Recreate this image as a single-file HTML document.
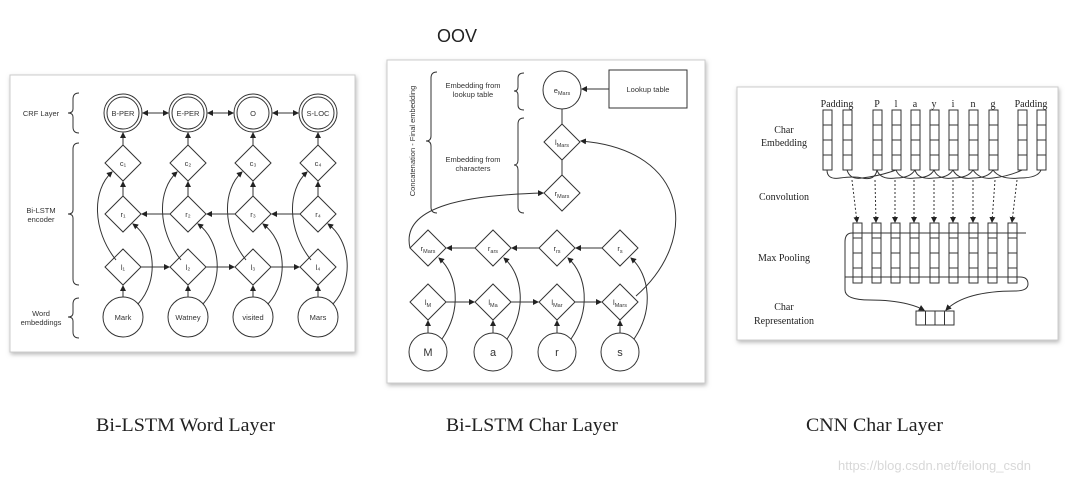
<!DOCTYPE html>
<html><head><meta charset="utf-8"><style>
html,body{margin:0;padding:0;background:#fff;}
svg{display:block;}
.s{font-family:"Liberation Sans",sans-serif;fill:#333;}
.r{font-family:"Liberation Serif",serif;fill:#222;}
.sub{font-size:5.5px;}
</style></head><body>
<svg width="1080" height="483" viewBox="0 0 1080 483" xmlns="http://www.w3.org/2000/svg">
<defs>
<marker id="a" markerWidth="6" markerHeight="6" refX="5" refY="3" orient="auto"><path d="M0,0 L6,3 L0,6 Z" fill="#222"/></marker>
<marker id="b" markerWidth="6" markerHeight="6" refX="1" refY="3" orient="auto"><path d="M6,0 L0,3 L6,6 Z" fill="#222"/></marker>
<filter id="sh" x="-5%" y="-5%" width="110%" height="110%"><feDropShadow dx="1" dy="2" stdDeviation="2" flood-color="#888" flood-opacity="0.6"/></filter>
</defs>

<text x="437" y="42" class="s" font-size="18" style="fill:#222">OOV</text>

<!-- Panel 1 -->
<rect x="10" y="75" width="345" height="277" fill="#fff" stroke="#ccc" filter="url(#sh)"/>
<g stroke="#333" stroke-width="1" fill="none">
<circle cx="123" cy="113" r="19"/><circle cx="123" cy="113" r="16"/>
<circle cx="188" cy="113" r="19"/><circle cx="188" cy="113" r="16"/>
<circle cx="253" cy="113" r="19"/><circle cx="253" cy="113" r="16"/>
<circle cx="318" cy="113" r="19"/><circle cx="318" cy="113" r="16"/>
<line x1="143" y1="113" x2="168" y2="113" marker-start="url(#b)" marker-end="url(#a)"/>
<line x1="208" y1="113" x2="233" y2="113" marker-start="url(#b)" marker-end="url(#a)"/>
<line x1="273" y1="113" x2="298" y2="113" marker-start="url(#b)" marker-end="url(#a)"/>
<path d="M123,145 L141,163 L123,181 L105,163 Z M188,145 L206,163 L188,181 L170,163 Z M253,145 L271,163 L253,181 L235,163 Z M318,145 L336,163 L318,181 L300,163 Z"/>
<path d="M123,196 L141,214 L123,232 L105,214 Z M188,196 L206,214 L188,232 L170,214 Z M253,196 L271,214 L253,232 L235,214 Z M318,196 L336,214 L318,232 L300,214 Z"/>
<path d="M123,249 L141,267 L123,285 L105,267 Z M188,249 L206,267 L188,285 L170,267 Z M253,249 L271,267 L253,285 L235,267 Z M318,249 L336,267 L318,285 L300,267 Z"/>
<circle cx="123" cy="317" r="20"/><circle cx="188" cy="317" r="20"/><circle cx="253" cy="317" r="20"/><circle cx="318" cy="317" r="20"/>
<g marker-end="url(#a)">
<line x1="123" y1="145" x2="123" y2="133"/><line x1="188" y1="145" x2="188" y2="133"/><line x1="253" y1="145" x2="253" y2="133"/><line x1="318" y1="145" x2="318" y2="133"/>
<line x1="123" y1="196" x2="123" y2="182"/><line x1="188" y1="196" x2="188" y2="182"/><line x1="253" y1="196" x2="253" y2="182"/><line x1="318" y1="196" x2="318" y2="182"/>
<line x1="123" y1="297" x2="123" y2="286"/><line x1="188" y1="297" x2="188" y2="286"/><line x1="253" y1="297" x2="253" y2="286"/><line x1="318" y1="297" x2="318" y2="286"/>
<line x1="141" y1="267" x2="169" y2="267"/><line x1="206" y1="267" x2="234" y2="267"/><line x1="271" y1="267" x2="299" y2="267"/>
<line x1="170" y1="214" x2="142" y2="214"/><line x1="235" y1="214" x2="207" y2="214"/><line x1="300" y1="214" x2="272" y2="214"/>
<path d="M116,260 C92,230 92,190 112,172"/><path d="M181,260 C157,230 157,190 177,172"/><path d="M246,260 C222,230 222,190 242,172"/><path d="M311,260 C287,230 287,190 307,172"/>
<path d="M138,304 C160,280 155,240 133,224"/><path d="M203,304 C225,280 220,240 198,224"/><path d="M268,304 C290,280 285,240 263,224"/><path d="M333,304 C355,280 350,240 328,224"/>
</g>
<path d="M79,93 Q73,93 73,99 L73,109 Q73,113 68,113 Q73,113 73,117 L73,127 Q73,133 79,133"/>
<path d="M79,143 Q73,143 73,149 L73,210 Q73,214 68,214 Q73,214 73,218 L73,279 Q73,285 79,285"/>
<path d="M79,298 Q73,298 73,304 L73,313 Q73,317 68,317 Q73,317 73,321 L73,332 Q73,338 79,338"/>
</g>
<g class="s" font-size="7.5" text-anchor="middle">
<text x="41" y="116">CRF Layer</text>
<text x="41" y="213">Bi-LSTM</text><text x="41" y="222">encoder</text>
<text x="41" y="316">Word</text><text x="41" y="325">embeddings</text>
<text x="123" y="116">B-PER</text><text x="188" y="116">E-PER</text><text x="253" y="116">O</text><text x="318" y="116">S-LOC</text>
<text x="123" y="320">Mark</text><text x="188" y="320">Watney</text><text x="253" y="320">visited</text><text x="318" y="320">Mars</text>
<text x="123" y="166">c₁</text><text x="188" y="166">c₂</text><text x="253" y="166">c₃</text><text x="318" y="166">c₄</text>
<text x="123" y="217">r₁</text><text x="188" y="217">r₂</text><text x="253" y="217">r₃</text><text x="318" y="217">r₄</text>
<text x="123" y="270">l₁</text><text x="188" y="270">l₂</text><text x="253" y="270">l₃</text><text x="318" y="270">l₄</text>
</g>

<!-- Panel 2 -->
<rect x="387" y="60" width="318" height="323" fill="#fff" stroke="#ccc" filter="url(#sh)"/>
<g stroke="#333" stroke-width="1" fill="none">
<circle cx="562" cy="90" r="19"/>
<rect x="609" y="70" width="78" height="38"/>
<line x1="609" y1="89" x2="582" y2="89" marker-end="url(#a)"/>
<line x1="562" y1="109" x2="562" y2="124"/>
<path d="M562,124 L580,142 L562,160 L544,142 Z"/>
<line x1="562" y1="160" x2="562" y2="175"/>
<path d="M562,175 L580,193 L562,211 L544,193 Z"/>
<path d="M428,230 L446,248 L428,266 L410,248 Z M493,230 L511,248 L493,266 L475,248 Z M557,230 L575,248 L557,266 L539,248 Z M620,230 L638,248 L620,266 L602,248 Z"/>
<path d="M428,284 L446,302 L428,320 L410,302 Z M493,284 L511,302 L493,320 L475,302 Z M557,284 L575,302 L557,320 L539,302 Z M620,284 L638,302 L620,320 L602,302 Z"/>
<circle cx="428" cy="352" r="19"/><circle cx="493" cy="352" r="19"/><circle cx="557" cy="352" r="19"/><circle cx="620" cy="352" r="19"/>
<g marker-end="url(#a)">
<line x1="602" y1="248" x2="576" y2="248"/><line x1="539" y1="248" x2="512" y2="248"/><line x1="475" y1="248" x2="447" y2="248"/>
<line x1="446" y1="302" x2="474" y2="302"/><line x1="511" y1="302" x2="538" y2="302"/><line x1="575" y1="302" x2="601" y2="302"/>
<line x1="428" y1="333" x2="428" y2="321"/><line x1="493" y1="333" x2="493" y2="321"/><line x1="557" y1="333" x2="557" y2="321"/><line x1="620" y1="333" x2="620" y2="321"/>
<path d="M442,339 C462,310 458,275 439,258"/><path d="M507,339 C527,310 523,275 504,258"/><path d="M571,339 C591,310 587,275 568,258"/><path d="M634,339 C654,310 650,275 631,258"/>
<path d="M410,248 C400,205 470,195 543,193"/>
<path d="M636,296 C700,240 690,150 581,141"/>
</g>
<path d="M437,72 Q431,72 431,78 L431,136 Q431,141 426,141 Q431,141 431,146 L431,207 Q431,213 437,213"/>
<path d="M524,73 Q518,73 518,78 L518,87 Q518,91 514,91 Q518,91 518,95 L518,105 Q518,110 524,110"/>
<path d="M524,118 Q518,118 518,124 L518,160 Q518,165 514,165 Q518,165 518,170 L518,207 Q518,213 524,213"/>
</g>
<g class="s" font-size="7.5" text-anchor="middle">
<text x="473" y="88">Embedding from</text><text x="473" y="97">lookup table</text>
<text x="473" y="162">Embedding from</text><text x="473" y="171">characters</text>
<text x="648" y="92">Lookup table</text>
<text transform="translate(415,141) rotate(-90)">Concatenation - Final embedding</text>
<text x="562" y="93">e<tspan class="sub" dy="2">Mars</tspan></text>
<text x="562" y="145">l<tspan class="sub" dy="2">Mars</tspan></text><text x="562" y="196">r<tspan class="sub" dy="2">Mars</tspan></text>
<text x="428" y="251">r<tspan class="sub" dy="2">Mars</tspan></text><text x="493" y="251">r<tspan class="sub" dy="2">ars</tspan></text><text x="557" y="251">r<tspan class="sub" dy="2">rs</tspan></text><text x="620" y="251">r<tspan class="sub" dy="2">s</tspan></text>
<text x="428" y="305">l<tspan class="sub" dy="2">M</tspan></text><text x="493" y="305">l<tspan class="sub" dy="2">Ma</tspan></text><text x="557" y="305">l<tspan class="sub" dy="2">Mar</tspan></text><text x="620" y="305">l<tspan class="sub" dy="2">Mars</tspan></text>
</g>
<g class="s" font-size="11" text-anchor="middle">
<text x="428" y="356">M</text><text x="493" y="356">a</text><text x="557" y="356">r</text><text x="620" y="356">s</text>
</g>

<!-- Panel 3 -->
<rect x="737" y="87" width="321" height="253" fill="#fff" stroke="#ccc" filter="url(#sh)"/>
<g stroke="#333" stroke-width="1" fill="none">
<g id="col">
<rect x="823" y="110" width="9" height="60"/><line x1="823" y1="125" x2="832" y2="125"/><line x1="823" y1="140" x2="832" y2="140"/><line x1="823" y1="155" x2="832" y2="155"/>
</g>
<use href="#col" x="20"/><use href="#col" x="50"/><use href="#col" x="69"/><use href="#col" x="88"/><use href="#col" x="107"/><use href="#col" x="126"/><use href="#col" x="146"/><use href="#col" x="166"/><use href="#col" x="195"/><use href="#col" x="214"/>
<path d="M827,170 Q827,180 840,178 Q855,176 862,178 Q875,181 877,170"/>
<path d="M847,170 Q850,180 862,178 Q880,176 896,170"/>
<path d="M877,170 Q880,180 896,178 Q910,178 915,170"/>
<path d="M896,170 Q900,180 915,178 Q930,178 934,170"/>
<path d="M915,170 Q918,180 934,178 Q948,178 953,170"/>
<path d="M934,170 Q938,180 953,178 Q968,178 973,170"/>
<path d="M953,170 Q958,180 973,178 Q988,178 993,170"/>
<path d="M973,170 Q980,180 993,178 Q1010,176 1022,170"/>
<path d="M993,170 Q1000,180 1020,178 Q1038,178 1041,170"/>
<g stroke-dasharray="2,2" marker-end="url(#a)">
<line x1="852" y1="180" x2="857" y2="222"/><line x1="875" y1="180" x2="876" y2="222"/><line x1="895" y1="180" x2="895" y2="222"/><line x1="914" y1="180" x2="914" y2="222"/><line x1="934" y1="180" x2="934" y2="222"/><line x1="953" y1="180" x2="953" y2="222"/><line x1="973" y1="180" x2="973" y2="222"/><line x1="995" y1="180" x2="992" y2="222"/><line x1="1017" y1="180" x2="1012" y2="222"/>
</g>
<g id="cc">
<rect x="853" y="223" width="9" height="60"/><line x1="853" y1="238" x2="862" y2="238"/><line x1="853" y1="253" x2="862" y2="253"/><line x1="853" y1="268" x2="862" y2="268"/>
</g>
<use href="#cc" x="19"/><use href="#cc" x="38"/><use href="#cc" x="57"/><use href="#cc" x="77"/><use href="#cc" x="96"/><use href="#cc" x="116"/><use href="#cc" x="135"/><use href="#cc" x="155"/>
<path d="M1026,233 L852,233 Q845,233 845,242 L845,290 Q845,300 870,300 Q905,300 924,310" marker-end="url(#a)"/>
<path d="M845,277 L1020,277 Q1028,277 1028,284 Q1028,291 1015,291 Q965,291 946,310" marker-end="url(#a)"/>
<rect x="916" y="311" width="38" height="14"/><line x1="925.5" y1="311" x2="925.5" y2="325"/><line x1="935" y1="311" x2="935" y2="325"/><line x1="944.5" y1="311" x2="944.5" y2="325"/>
</g>
<g class="r" font-size="10" text-anchor="middle">
<text x="837" y="107">Padding</text><text x="877" y="107">P</text><text x="896" y="107">l</text><text x="915" y="107">a</text><text x="934" y="107">y</text><text x="953" y="107">i</text><text x="973" y="107">n</text><text x="993" y="107">g</text><text x="1031" y="107">Padding</text>
<text x="784" y="133">Char</text><text x="784" y="146">Embedding</text>
<text x="784" y="200">Convolution</text>
<text x="784" y="261">Max Pooling</text>
<text x="784" y="310">Char</text><text x="784" y="324">Representation</text>
</g>

<g class="r" font-size="19">
<text x="96" y="431" textLength="179" lengthAdjust="spacingAndGlyphs">Bi-LSTM Word Layer</text>
<text x="446" y="431" textLength="172" lengthAdjust="spacingAndGlyphs">Bi-LSTM Char Layer</text>
<text x="806" y="431" textLength="137" lengthAdjust="spacingAndGlyphs">CNN Char Layer</text>
</g>
<text x="838" y="470" font-family="Liberation Sans, sans-serif" font-size="13" style="fill:#d8d8d8">https://blog.csdn.net/feilong_csdn</text>
</svg>
</body></html>
